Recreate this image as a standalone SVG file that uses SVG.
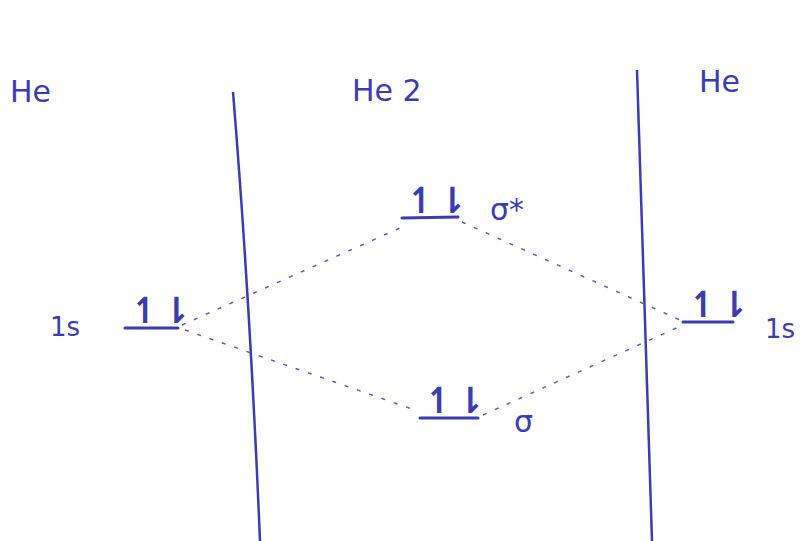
<svg xmlns="http://www.w3.org/2000/svg" width="801" height="541" viewBox="0 0 801 541">
<style>
.t{font-family:"DejaVu Sans",sans-serif;fill:#3b3cb2;font-size:30px}
.s{font-family:"DejaVu Sans",sans-serif;fill:#3b3cb2;font-size:26px}
.e{font-family:"DejaVu Sans",sans-serif;fill:#3b3cb2;font-size:36px;font-weight:bold;letter-spacing:1px}
.lv{stroke:#3b3cb2;stroke-width:3;fill:none;stroke-linecap:round}
.wall{stroke:#3b3cb2;stroke-width:2.5;fill:none}
.d{stroke:#5a5ac0;stroke-width:1.5;fill:none;stroke-dasharray:4 9}
</style>
<rect width="801" height="541" fill="#ffffff"/>
<g id="walls">
<path class="wall" d="M233,92 Q250,300 260,541"/>
<path class="wall" d="M637,70 Q645,300 652,541"/>
</g>
<g id="headers">
<text class="t" x="10" y="102">He</text>
<text class="t" x="352" y="101">He 2</text>
<text class="t" x="699" y="92">He</text>
</g>
<g id="connectors">
<path class="d" d="M182,325 L400,228"/>
<path class="d" d="M185,330 L415,410"/>
<path class="d" d="M462,222 L680,320"/>
<path class="d" d="M483,415 L683,325"/>
</g>
<g id="he-left-1s">
<line class="lv" x1="125" y1="328" x2="178" y2="328"/>
<text class="e" x="130" y="323">↿⇂</text>
<text class="s" x="50" y="336">1s</text>
</g>
<g id="sigma-star">
<line class="lv" x1="402" y1="218" x2="458" y2="217"/>
<text class="e" x="406" y="213">↿⇂</text>
<text class="t" x="490" y="220">σ*</text>
</g>
<g id="sigma">
<line class="lv" x1="420" y1="418" x2="478" y2="418"/>
<text class="e" x="424" y="413">↿⇂</text>
<text class="t" x="514" y="432">σ</text>
</g>
<g id="he-right-1s">
<line class="lv" x1="683" y1="322" x2="733" y2="322"/>
<text class="e" x="688" y="317">↿⇂</text>
<text class="s" x="765" y="338">1s</text>
</g>
</svg>
